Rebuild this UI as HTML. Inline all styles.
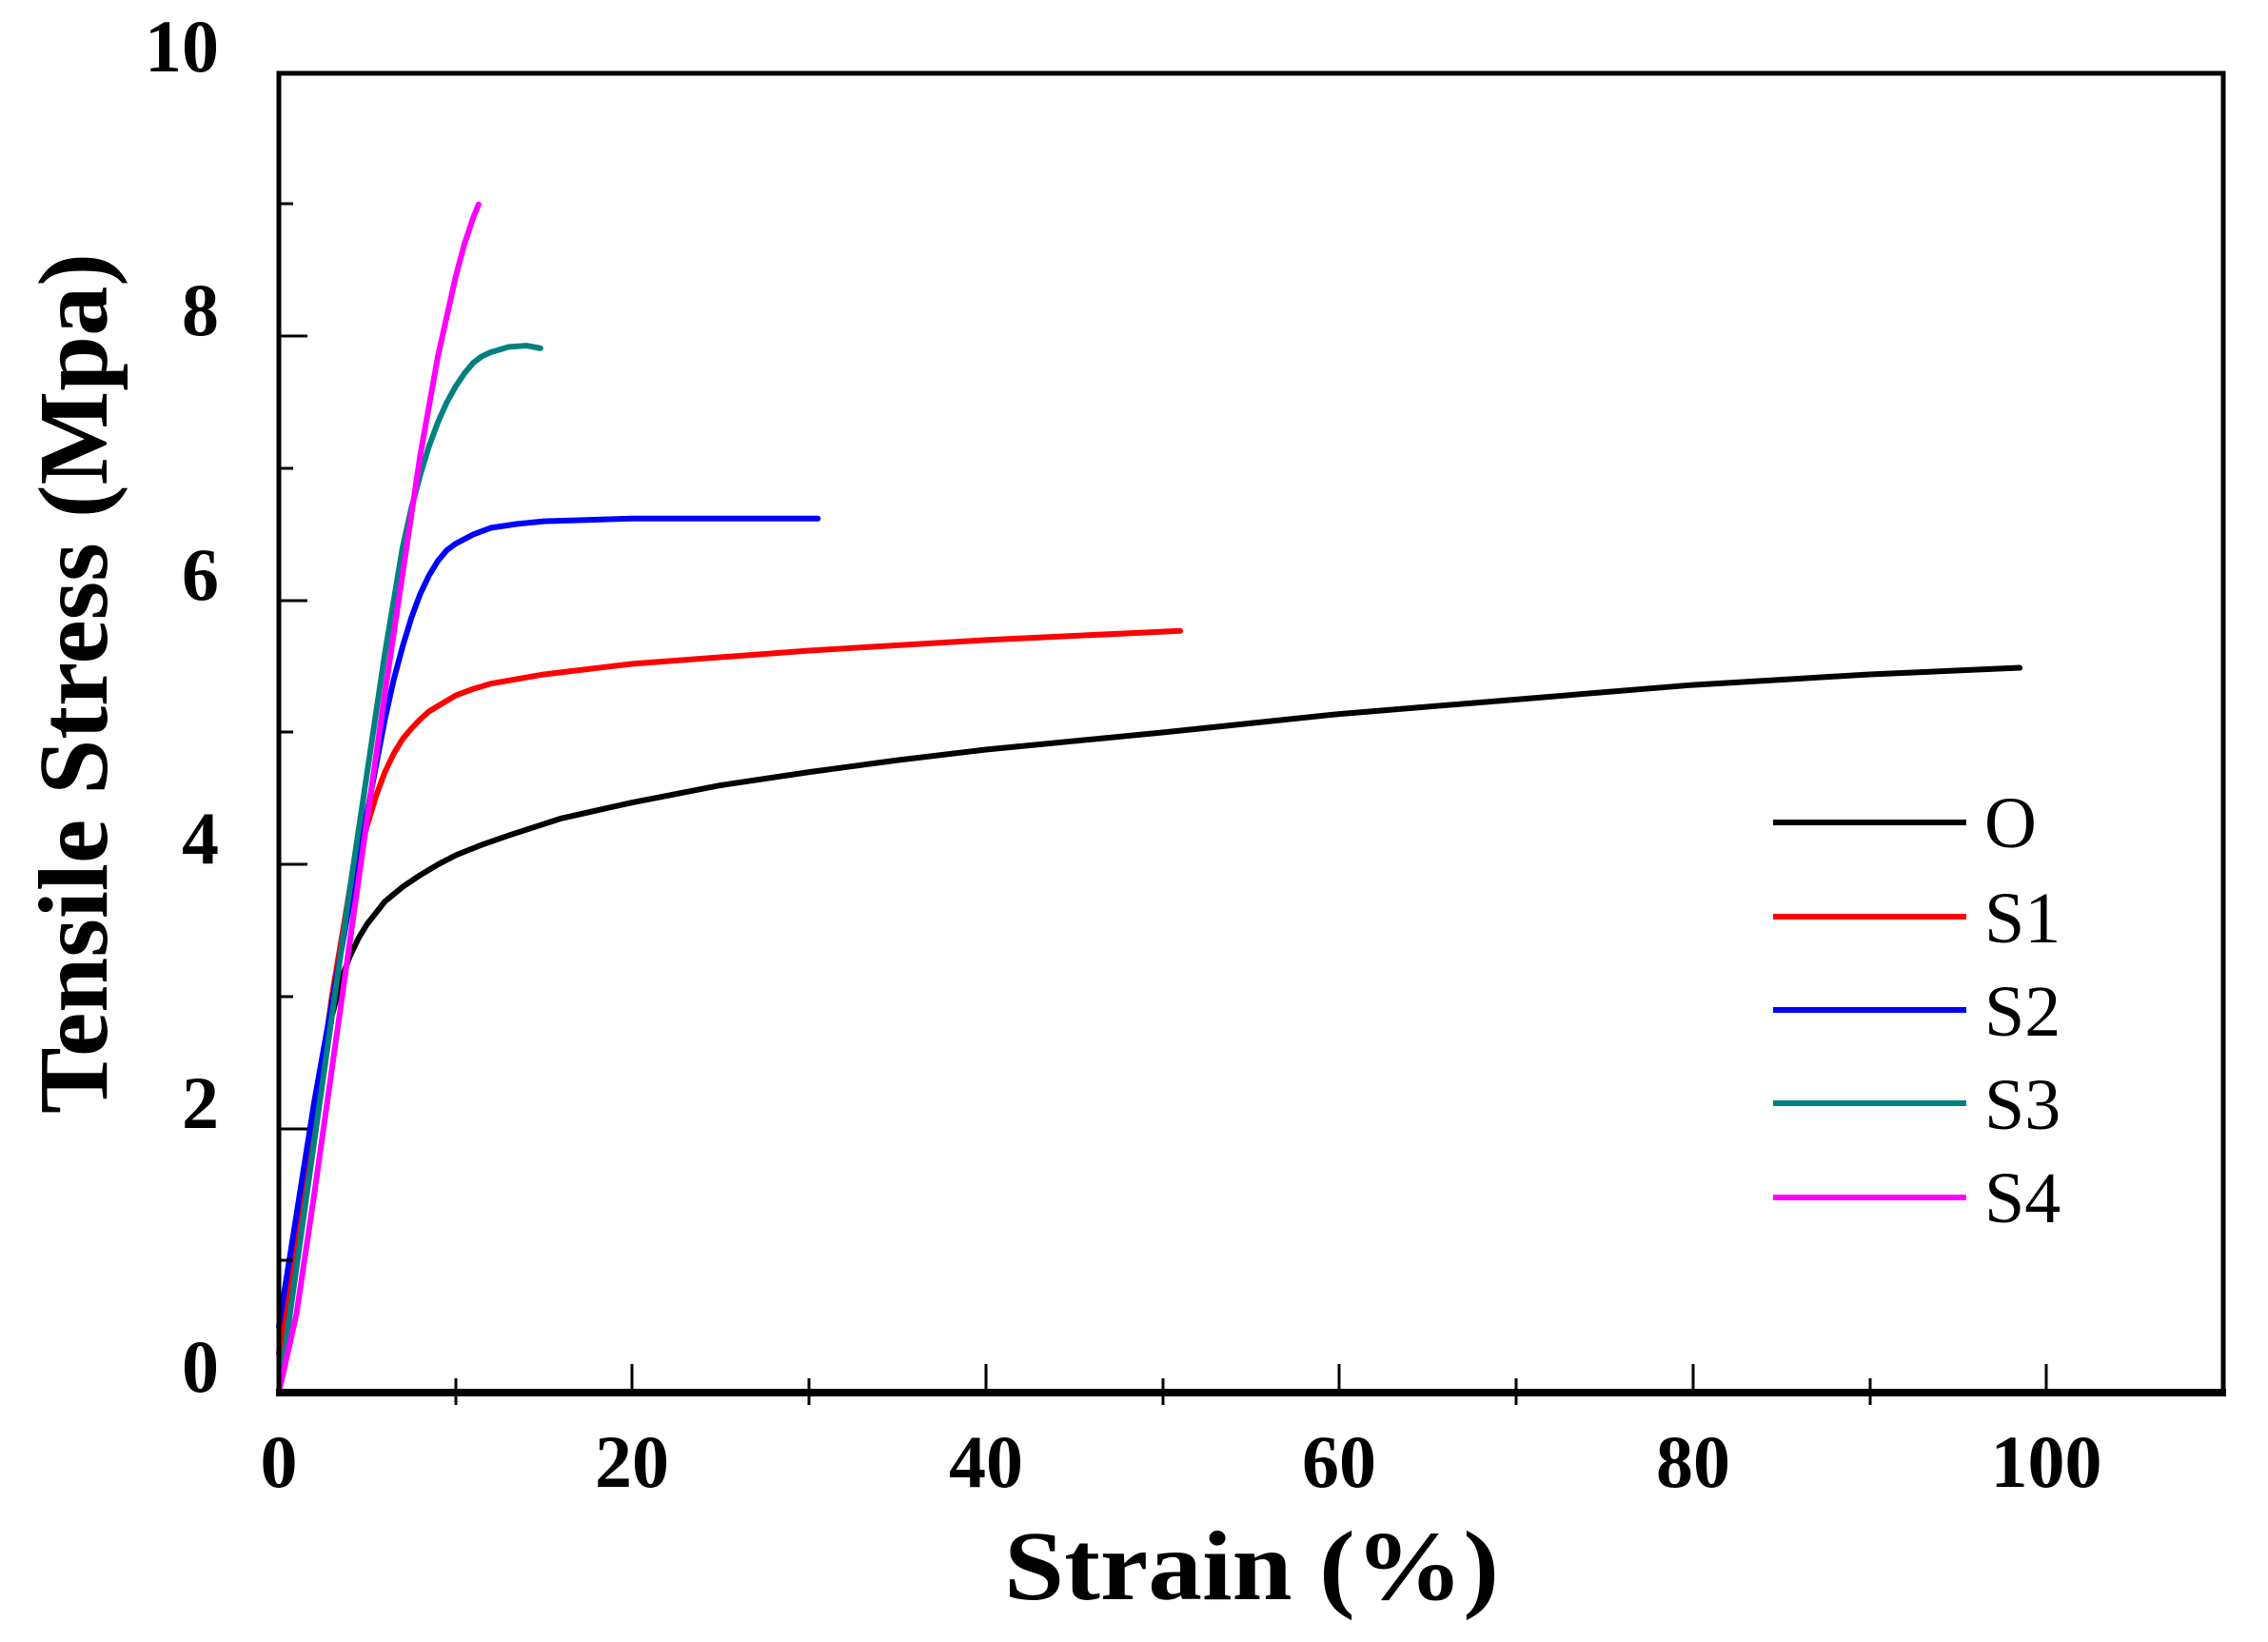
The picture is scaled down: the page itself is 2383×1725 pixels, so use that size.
<!DOCTYPE html>
<html><head><style>html,body{margin:0;padding:0;background:#fff}svg text{font-family:"Liberation Serif","Times New Roman",serif}</style></head>
<body>
<svg width="2383" height="1720" xmlns="http://www.w3.org/2000/svg">
<rect width="2383" height="1720" fill="#fff"/>
<g transform="translate(293,1463) scale(18.57,-138.7)" fill="none" stroke-width="6" stroke-linejoin="round" stroke-linecap="round">
<polyline vector-effect="non-scaling-stroke" stroke="#000" points="0,0 1,1 2,2 3,2.85 3.5,3.12 4,3.3 4.5,3.44 5,3.55 6,3.72 7,3.83 8,3.92 9,4.0 10,4.07 11.5,4.15 13,4.22 16,4.35 20,4.47 25,4.6 30,4.7 35,4.79 40,4.87 50,5.0 60,5.14 70,5.25 80,5.36 90,5.44 98.5,5.49"/>
<polyline vector-effect="non-scaling-stroke" stroke="#f00" points="0,0.3 2,2 3,3 4,3.8 4.5,4.07 5,4.3 5.5,4.52 6,4.7 6.5,4.84 7,4.95 7.5,5.03 8,5.1 8.5,5.16 9,5.2 10,5.28 11,5.33 12,5.37 15,5.44 20,5.52 30,5.62 40,5.7 51,5.77"/>
<polyline vector-effect="non-scaling-stroke" stroke="#00f" points="0,0.5 2,2.2 4,3.7 5,4.4 6,5.1 6.5,5.4 7,5.65 7.5,5.87 8,6.05 8.5,6.19 9,6.3 9.5,6.38 10,6.43 11,6.5 12,6.55 13.5,6.58 15,6.6 20,6.62 30.5,6.62"/>
<polyline vector-effect="non-scaling-stroke" stroke="#008080" points="0,0 2,1.9 4,3.8 5,4.7 6,5.6 7,6.4 7.5,6.7 8,6.95 8.5,7.17 9,7.35 9.5,7.5 10,7.62 10.5,7.72 11,7.8 11.5,7.85 12,7.88 13,7.92 14,7.93 14.8,7.91"/>
<polyline vector-effect="non-scaling-stroke" stroke="#f0f" points="0,0 1,0.6 2,1.5 3,2.45 4,3.4 5,4.35 6,5.3 7,6.2 8,7.1 9,7.85 10,8.45 10.5,8.7 11,8.9 11.3,9.0"/>
</g>
<g stroke="#000" stroke-width="5" fill="none">
<rect x="293" y="77" width="2043" height="1386"/>
<line x1="290" y1="1463" x2="2339" y2="1463" stroke-width="8"/>
<line x1="664" y1="1433" x2="664" y2="1463" stroke-width="3"/>
<line x1="1036" y1="1433" x2="1036" y2="1463" stroke-width="3"/>
<line x1="1407" y1="1433" x2="1407" y2="1463" stroke-width="3"/>
<line x1="1779" y1="1433" x2="1779" y2="1463" stroke-width="3"/>
<line x1="2150" y1="1433" x2="2150" y2="1463" stroke-width="3"/>
<line x1="479" y1="1448" x2="479" y2="1476" stroke-width="3"/>
<line x1="850" y1="1448" x2="850" y2="1476" stroke-width="3"/>
<line x1="1222" y1="1448" x2="1222" y2="1476" stroke-width="3"/>
<line x1="1593" y1="1448" x2="1593" y2="1476" stroke-width="3"/>
<line x1="1965" y1="1448" x2="1965" y2="1476" stroke-width="3"/>
<line x1="293" y1="1186" x2="323" y2="1186" stroke-width="3"/>
<line x1="293" y1="908" x2="323" y2="908" stroke-width="3"/>
<line x1="293" y1="631" x2="323" y2="631" stroke-width="3"/>
<line x1="293" y1="353" x2="323" y2="353" stroke-width="3"/>
<line x1="293" y1="1324" x2="308" y2="1324" stroke-width="3"/>
<line x1="293" y1="1047" x2="308" y2="1047" stroke-width="3"/>
<line x1="293" y1="769" x2="308" y2="769" stroke-width="3"/>
<line x1="293" y1="492" x2="308" y2="492" stroke-width="3"/>
<line x1="293" y1="214" x2="308" y2="214" stroke-width="3"/>
</g>
<g font-weight="bold" font-size="78" fill="#000" text-anchor="end">
<text x="230" y="1462">0</text>
<text x="230" y="1185">2</text>
<text x="230" y="907">4</text>
<text x="230" y="630">6</text>
<text x="230" y="352">8</text>
<text x="230" y="75">10</text>
</g>
<g font-weight="bold" font-size="78" fill="#000" text-anchor="middle">
<text x="293" y="1562">0</text>
<text x="664" y="1562">20</text>
<text x="1036" y="1562">40</text>
<text x="1407" y="1562">60</text>
<text x="1779" y="1562">80</text>
<text x="2150" y="1562">100</text>
</g>
<text x="1315" y="1680" font-weight="bold" font-size="104" text-anchor="middle" textLength="520" lengthAdjust="spacingAndGlyphs">Strain (%)</text>
<text transform="translate(112,718) rotate(-90)" font-weight="bold" font-size="104" text-anchor="middle" textLength="904" lengthAdjust="spacingAndGlyphs">Tensile Stress (Mpa)</text>
<g stroke-width="6">
<line x1="1863" y1="864" x2="2066" y2="864" stroke="#000"/>
<line x1="1863" y1="963" x2="2066" y2="963" stroke="#f00"/>
<line x1="1863" y1="1061" x2="2066" y2="1061" stroke="#00f"/>
<line x1="1863" y1="1159" x2="2066" y2="1159" stroke="#008080"/>
<line x1="1863" y1="1258" x2="2066" y2="1258" stroke="#f0f"/>
</g>
<g font-size="76" fill="#000">
<text x="2085" y="890">O</text>
<text x="2085" y="990">S1</text>
<text x="2085" y="1088">S2</text>
<text x="2085" y="1186">S3</text>
<text x="2085" y="1284">S4</text>
</g>
</svg>
</body></html>
